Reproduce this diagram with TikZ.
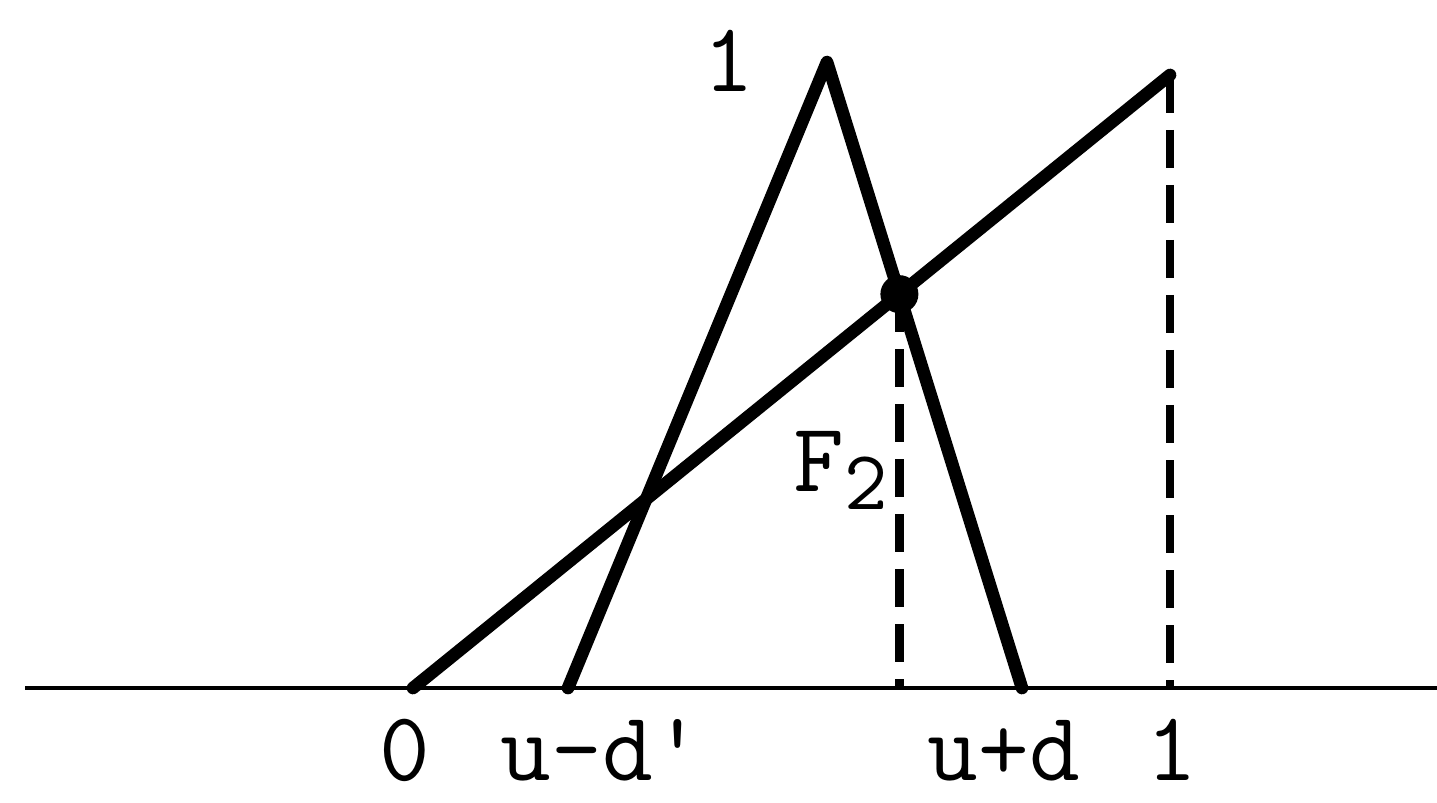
\documentclass[tikz,border=0pt]{standalone}
\usepackage{fontspec}
\usepackage{tikz}
\usetikzlibrary{positioning}

\begin{document}
\begin{tikzpicture}[
        graph/.style={line width=3.6pt, line cap=round, line join=round},
        axis/.style={line width=1.2pt},
        drop/.style={line width=2.4pt, dash pattern=on 0.38cm off 0.17cm},
        lab/.style={font=\ttfamily\fontsize{28}{30}\selectfont, inner sep=0pt, anchor=base}
      ]
      \useasboundingbox (0,0) rectangle (14.37,8.02);

      % Points
      \coordinate (axl) at (0.25,1.14);
      \coordinate (axr) at (14.37,1.14);
      \coordinate (orig) at (4.13,1.14);
      \coordinate (top) at (11.70,7.27);
      \coordinate (lfoot) at (5.68,1.14);
      \coordinate (apex) at (8.27,7.40);
      \coordinate (rfoot) at (10.22,1.14);
      \path (intersection of orig--top and apex--rfoot) coordinate (meet);
      \coordinate (meetb) at (meet |- axl);
      \coordinate (topb) at (top |- axl);

      % Axis
      \draw[axis] (axl) -- (axr);

      % Rising line and triangle
      \draw[graph] (orig) -- (top);
      \draw[graph] (lfoot) -- (apex) -- (rfoot);
      \fill (meet) circle (0.19);

      % Dashed drops
      \draw[drop] (meet) -- (meetb);
      \draw[drop] (top) -- (topb);

      % Labels
      \node[lab] (one) at (7.29,7.10) {1};
      \node[lab, anchor=base west] (ftwo) at (7.93,3.10) {F\raisebox{-0.18cm}{\fontsize{24}{26}\selectfont 2}};
      \node[lab] (zero) at (4.05,0.22) {0};
      \node[lab, anchor=base west] (lo) at (5.00,0.22) {u-d'};
      \node[lab, anchor=base west] (hi) at (9.27,0.22) {u+d};
      \node[lab] (unit) at (11.72,0.22) {1};

    \end{tikzpicture}
\end{document}
